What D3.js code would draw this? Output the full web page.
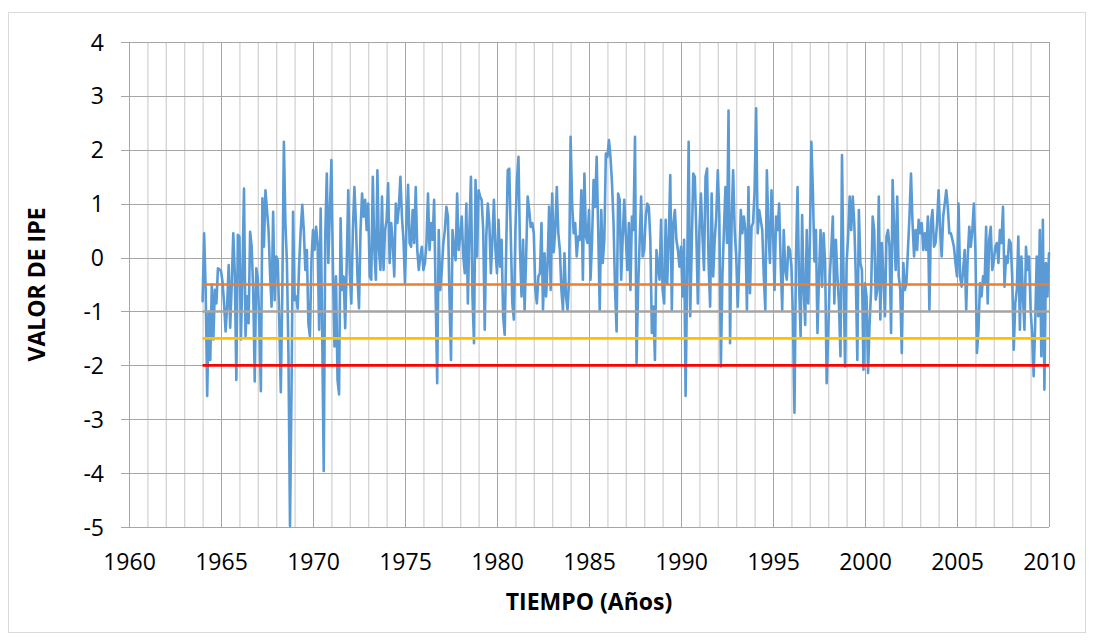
<!DOCTYPE html>
<html>
<head>
<meta charset="utf-8">
<script src="https://cdn.jsdelivr.net/npm/d3@7"></script>
<style>
  html, body { margin: 0; padding: 0; background: #ffffff; }
  svg { display: block; font-family: "Open Sans", "Noto Sans", sans-serif; }
</style>
</head>
<body>
<svg id="chart" width="1093" height="641"></svg>
<script>
// Monthly IPE values, January 1964 onwards
const ipe1964_1969 = [
  -0.81, 0.45, -0.6, -2.57, -1.0, -1.9, -0.5, -1.52, -0.6, -0.85, -0.2, -0.22,
  -0.25, -0.45, -0.85, -1.37, -0.9, -0.14, -1.3, -0.5, 0.45, -0.3, -2.27, 0.42,
  0.39, -1.52, -0.3, 1.28, -1.46, -0.72, -1.22, 0.48, 0.2, -0.6, -2.3, -0.2,
  -0.38, -1.22, -2.48, 1.1, 0.2, 1.25, 0.88, 0.51, -0.29, -0.91, 0.85, -0.79,
  0.02, -0.05, -1.16, -2.5, -0.6, 2.15, 0.64, -0.1, -1.83, -4.98, -2.45, 0.85,
  -0.79, -0.72, -0.95, -0.1, 0.51, 0.98, 0.51, -0.23, 0.14, -1.22, -1.46, -0.05
];
const ipe1970s = [
  0.51, 0.14, 0.57, 0.27, -1.34, 0.91, -1.4, -3.96, 0.39, 1.56, -0.1, 0.85,
  1.81, -0.2, -1.65, -0.35, -2.27, -2.54, 0.73, -0.6, -0.35, -1.31, -0.1, 1.25,
  -0.29, -0.85, 0.51, 1.31, 0.64, -0.35, -0.94, 0.51, 1.19, 0.76, 1.07, 0.51,
  1.0, -0.35, -0.41, 1.5, 0.14, -0.41, 1.62, 0.14, -0.23, 1.13, -0.23, 0.51,
  0.7, 1.38, -0.1, 0.64, 0.27, -0.35, 1.0, 0.64, 0.94, 1.5, 0.76, 0.33,
  -0.48, 0.64, 1.35, 0.27, 0.2, 0.88, 0.27, 1.31, 0.14, -0.23, 0.02, 0.2,
  -0.23, -0.1, 0.27, 1.19, 0.14, 0.64, 0.33, 1.07, -0.72, -2.33, 0.51, -0.6,
  -0.23, 0.27, 0.51, 0.94, 0.76, -0.72, -1.9, 0.51, 0.14, -0.05, 1.19, 0.14,
  0.39, 0.76, 0.02, -0.29, 1.0, -0.85, 0.51, 1.5, -0.72, -1.59, 1.44, 0.02,
  1.25, 1.13, 1.07, 0.51, -1.34, 0.39, 1.0, 0.64, -0.29, 0.33, 1.07, 0.14
];
const ipe1980s = [
  -0.29, 0.7, -0.17, 0.33, -1.09, -1.43, 0.14, 1.62, 1.65, 0.39, -0.85, -1.15,
  0.51, 1.44, 1.87, 0.14, -0.72, 0.33, -0.97, 0.02, 1.13, 0.88, 0.57, 0.64,
  0.45, -0.6, -0.85, -0.35, -0.29, 0.64, -0.97, 0.08, -0.72, -0.1, 0.94, -0.6,
  1.19, 0.1, 0.51, 1.31, 0.45, 0.14, -0.6, -0.97, 0.08, -0.72, -0.97, -0.41,
  2.24, 1.0, 0.45, 0.64, 0.02, 0.39, 0.33, 1.25, -0.41, 1.56, 0.39, 0.27,
  0.88, -0.41, 0.33, 1.44, 0.94, 1.87, 0.51, -0.97, 0.88, -0.1, 0.33, 1.93,
  1.87, 2.18, 1.87, 1.38, 0.64, -0.6, -1.37, 1.19, 1.07, -0.41, 0.39, 1.07,
  0.4, -0.23, 0.64, -0.6, 0.76, 0.51, 2.24, -1.96, -0.6, 0.27, 1.13, 0.02,
  0.14, 0.76, 1.0, 0.94, 0.33, -1.4, -0.91, -1.9, 0.14, -0.17, -0.41, 0.7,
  -0.6, -0.85, 0.7, -0.48, 0.33, 1.53, -0.97, 0.64, 0.88, 0.33, 0.14, -0.17
];
const ipe1990s = [
  0.2, -0.72, 0.33, -2.57, -0.35, 2.15, -1.09, 0.2, 1.56, 1.5, 0.45, -0.85,
  0.51, 1.19, 0.39, -0.23, 1.5, 1.65, -0.1, -0.91, 1.19, -0.35, 0.33, 0.76,
  1.62, 0.76, -2.02, -0.35, 0.51, 1.31, 0.27, 2.73, -1.59, 0.64, 1.62, 0.51,
  0.02, -0.91, -0.1, 0.88, 0.45, 0.76, 0.51, -0.97, 1.31, -0.66, 0.57, 0.64,
  1.25, 2.77, 0.45, 0.88, 0.7, 0.51, -0.35, -0.97, 1.62, 0.51, -0.1, 1.25,
  0.51, -0.6, 0.76, 0.51, 1.0, -0.1, -0.97, 0.51, -0.23, -0.41, 0.2, 0.14,
  -0.17, -1.09, -2.88, 0.02, 1.31, -0.48, -1.46, 0.79, -0.6, -1.25, 0.51, -0.85,
  0.2, 2.15, 1.25, -0.07, 0.51, -1.4, -0.35, 0.51, -0.54, 0.45, -0.1, -2.33,
  -1.46, -0.35, 0.14, 0.76, -0.85, 0.33, -0.35, -0.85, -1.83, 1.9, -0.35, -2.02,
  -0.1, 0.39, 1.13, 0.51, 1.13, 0.64, -0.35, -1.9, 0.88, -0.1, -0.23, -2.08
];
const ipe2000s = [
  -0.48, -0.72, -2.14, -1.22, -0.6, 0.76, 0.51, -0.78, -0.6, 1.13, -1.15, 0.27,
  -0.35, -1.09, 0.39, 0.51, 0.2, -1.4, 1.44, 0.51, -0.23, 1.13, -0.35, -0.6,
  -1.77, -0.1, -0.6, -0.48, 0.14, 0.76, 1.56, 0.64, 0.02, 0.51, 0.14, 0.7,
  0.45, 0.64, 0.14, 0.45, 0.14, 0.76, -0.97, 0.64, 0.88, 0.2, 0.27, 0.64,
  1.25, 0.51, 0.02, 0.76, 1.0, 1.25, 0.94, 0.45, 0.45, 0.33, 0.2, -0.1,
  -0.35, 1.0, -0.35, -0.54, -0.23, 0.14, -0.97, 0.02, 0.57, 0.2, 0.51, 1.0,
  0.14, -1.77, -1.34, -0.48, -0.72, -0.35, -0.48, 0.57, -0.85, 0.33, 0.57, -0.23,
  -0.05, 0.2, 0.27, -0.1, 0.51, 0.27, 0.94, -0.54, 0.02, -0.1, 0.33, 0.27,
  -0.35, -1.71, -0.85, -0.6, 0.39, -1.34, 0.02, -0.72, -1.34, 0.2, -0.23, 0.02,
  -0.97, -1.4, -2.2, -1.22, 0.02, -1.09, 0.51, -1.83, 0.7, -2.45, -0.1, -0.72,
  0.08
];
const startYear = 1964;

// Drought category thresholds
const thresholdValues = [-0.5, -1, -1.5, -2];
const thresholdStart = 1964;
const thresholdEnd = 2010;

// Axis ticks and titles
const xTickYears = [1960, 1965, 1970, 1975, 1980, 1985, 1990, 1995, 2000, 2005, 2010];
const yTickValues = [-5, -4, -3, -2, -1, 0, 1, 2, 3, 4];
const xTitle = "TIEMPO (Años)";
const yTitle = "VALOR DE IPE";

const thresholdColors = ["#ED7D31", "#A5A5A5", "#FFC000", "#FF0000"];

const ipe = [].concat(ipe1964_1969, ipe1970s, ipe1980s, ipe1990s, ipe2000s)
  .map((v, i) => ({ t: startYear + i / 12, v }));

const svg = d3.select("#chart");
const plot = { left: 129, right: 1049, top: 42, bottom: 527 };

const x = d3.scaleLinear().domain([1960, 2010]).range([plot.left, plot.right]);
const y = d3.scaleLinear().domain([-5, 4]).range([plot.bottom, plot.top]);

// labels use a plain hyphen for negatives
const plainNumber = d => String(d);

// chart frame
svg.append("rect")
  .attr("x", 8.5).attr("y", 12.5)
  .attr("width", 1077).attr("height", 620)
  .attr("fill", "#ffffff").attr("stroke", "#D9D9D9").attr("stroke-width", 1);

// minor vertical gridlines (every year)
const minorYears = d3.range(1960, 2011).filter(yr => yr % 5 !== 0);
svg.append("g")
  .attr("transform", `translate(0,${plot.bottom})`)
  .call(d3.axisBottom(x).tickValues(minorYears).tickSize(-(plot.bottom - plot.top)).tickFormat(""))
  .call(g => g.select(".domain").remove())
  .call(g => g.selectAll(".tick line").attr("stroke", "#D4D4D4").attr("stroke-width", 1.3));

// major vertical gridlines (every 5 years) with year labels
svg.append("g")
  .attr("transform", `translate(0,${plot.bottom})`)
  .call(d3.axisBottom(x).tickValues(xTickYears).tickSize(-(plot.bottom - plot.top)).tickPadding(0).tickFormat(plainNumber))
  .call(g => g.select(".domain").remove())
  .call(g => g.selectAll(".tick line").attr("stroke", "#A6A6A6").attr("stroke-width", 1).attr("shape-rendering", "crispEdges"))
  .call(g => g.selectAll(".tick text")
    .attr("y", 43).attr("dy", null)
    .attr("fill", "#000").attr("font-size", 23)
    .attr("font-family", "'Open Sans', 'Noto Sans', sans-serif"));

// horizontal gridlines with value labels
svg.append("g")
  .attr("transform", `translate(${plot.right},0)`)
  .call(d3.axisLeft(y).tickValues(yTickValues).tickSize(plot.right - plot.left + 8).tickPadding(0).tickFormat(plainNumber))
  .call(g => g.select(".domain").remove())
  .call(g => g.selectAll(".tick line").attr("stroke", "#A6A6A6").attr("stroke-width", 1).attr("shape-rendering", "crispEdges"))
  .call(g => g.selectAll(".tick text")
    .attr("x", -(plot.right - 104)).attr("dy", "0.35em")
    .attr("text-anchor", "end")
    .attr("fill", "#000").attr("font-size", 23)
    .attr("font-family", "'Open Sans', 'Noto Sans', sans-serif"));

// IPE series
const line = d3.line().x(d => x(d.t)).y(d => y(d.v));
svg.append("path")
  .datum(ipe)
  .attr("d", line)
  .attr("fill", "none")
  .attr("stroke", "#5B9BD5")
  .attr("stroke-width", 2.6)
  .attr("stroke-linejoin", "round")
  .attr("stroke-linecap", "round");

// threshold lines
svg.append("g").selectAll("line")
  .data(thresholdValues)
  .join("line")
  .attr("x1", x(thresholdStart)).attr("x2", x(thresholdEnd))
  .attr("y1", d => y(d)).attr("y2", d => y(d))
  .attr("stroke", (d, i) => thresholdColors[i])
  .attr("stroke-width", 2.6);

// axis titles
svg.append("text")
  .attr("x", (plot.left + plot.right) / 2).attr("y", 610)
  .attr("text-anchor", "middle")
  .attr("font-size", 23).attr("font-weight", "bold")
  .text(xTitle);

svg.append("text")
  .attr("transform", `translate(45,${(plot.top + plot.bottom) / 2}) rotate(-90)`)
  .attr("text-anchor", "middle")
  .attr("font-size", 23).attr("font-weight", "bold")
  .text(yTitle);
</script>
</body>
</html>
